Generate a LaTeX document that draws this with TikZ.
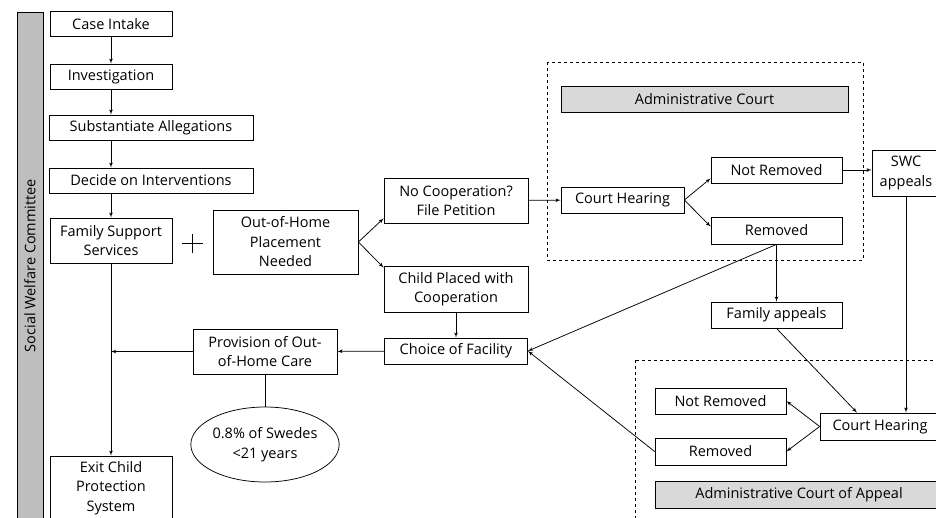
\documentclass[tikz,border=0pt]{standalone}
\usepackage{fontspec}
\setmainfont{Open Sans}
\usetikzlibrary{shapes, arrows}
\definecolor{barfill}{HTML}{BEBEBE}
\definecolor{courtfill}{HTML}{D9D9D9}
\tikzstyle{box} = [rectangle, draw, fill=white, text centered, align=center, inner sep=0pt, line width=0.75pt]
\tikzstyle{sidebar} = [rectangle, draw, fill=barfill, text centered, inner sep=0pt, line width=0.75pt]
\tikzstyle{courtbar} = [rectangle, draw, fill=courtfill, text centered, inner sep=0pt, line width=0.75pt]
\tikzstyle{share} = [ellipse, draw, align=center, inner sep=0pt, line width=0.75pt]
\tikzstyle{frame} = [draw, dashed, line width=0.75pt]
\tikzstyle{line} = [draw, -latex', line width=0.75pt]

\begin{document}
\begin{tikzpicture}[x=1pt, y=-1pt, node distance=52.5pt, font=\fontsize{14.5}{19.5}\selectfont]
    \useasboundingbox (0,0) rectangle (936,517);
    \clip (0,0) rectangle (936,517);

    % committee column
    \node[sidebar, rotate=90, minimum width=507pt, minimum height=26pt](committee) at (30,265.5){Social Welfare Committee};
    \node[box, minimum width=122pt, minimum height=25pt](intake) at (111,24){Case Intake};
    \node[box, minimum width=122pt, minimum height=25pt, below of=intake](invest){Investigation};
    \node[box, minimum width=204pt, minimum height=25pt](subst) at (151,127.5){Substantiate Allegations};
    \node[box, minimum width=204pt, minimum height=25pt](decide) at (151,180.5){Decide on Interventions};
    \node[box, minimum width=122pt, minimum height=45pt](family) at (111,240.5){Family Support\\Services};
    \node[box, minimum width=122pt, minimum height=64pt, below of=family, node distance=247.5pt](exit){Exit Child\\Protection\\System};
    \draw[line width=1pt] (182,243) -- (203,243) (192,234) -- (192,253);

    % placement
    \node[box, minimum width=145pt, minimum height=64pt](need) at (285.5,242){Out-of-Home\\Placement\\Needed};
    \node[box, minimum width=144pt, minimum height=45pt](petition) at (456,200.5){No Cooperation?\\File Petition};
    \node[box, minimum width=144pt, minimum height=46pt, below of=petition, node distance=88.5pt](placed){Child Placed with\\Cooperation};
    \node[box, minimum width=143pt, minimum height=26pt, below of=placed, node distance=62pt](choice){Choice of Facility};
    \node[box, minimum width=144pt, minimum height=45pt](prov) at (265,351.5){Provision of Out-\\of-Home Care};
    \node[share, minimum width=135pt, minimum height=75pt](sweden) at (265,444.5){0.8\% of Swedes\\<21 years};

    % administrative court
    \draw[frame] (547,62) rectangle (863,260);
    \node[courtbar, minimum width=287pt, minimum height=26pt](court) at (704.5,99){Administrative Court};
    \node[box, minimum width=123pt, minimum height=26pt](hearing) at (622.5,200){Court Hearing};
    \node[box, minimum width=131pt, minimum height=26pt](notrem) at (776.5,170){Not Removed};
    \node[box, minimum width=131pt, minimum height=27pt, below of=notrem, node distance=60.5pt](rem){Removed};
    \node[box, minimum width=68pt, minimum height=46pt](swc) at (906,173){SWC\\appeals};
    \node[box, minimum width=131pt, minimum height=26pt, below of=rem, node distance=84.5pt](fam){Family appeals};

    % court of appeal
    \draw[frame] (635,360) rectangle (950,530);
    \node[box, minimum width=131pt, minimum height=26pt](notrem2) at (720.5,401){Not Removed};
    \node[box, minimum width=131pt, minimum height=27pt, below of=notrem2, node distance=50.5pt](rem2){Removed};
    \node[box, minimum width=120pt, minimum height=27pt](hearing2) at (880,426.5){Court Hearing};
    \node[courtbar, minimum width=288pt, minimum height=27pt](appeal) at (799,494.5){Administrative Court of Appeal};

    \path[line] (intake) -- (invest);
    \path[line] (invest) -- (invest |- subst.north);
    \path[line] (subst.south -| invest) -- (decide.north -| invest);
    \path[line] (decide.south -| family) -- (family);
    \path[line] (family) -- (exit);
    \path[line] (prov) -- (prov -| family);
    \draw[line width=0.75pt] (prov.south) -- (prov.south |- sweden.north);
    \path[line] (need.east) -- ([yshift=5pt]petition.south west);
    \path[line] (need.east) -- ([yshift=-2pt]placed.north west);
    \path[line] (placed) -- (choice);
    \path[line] (choice) -- (prov);
    \path[line] (petition) -- (hearing);
    \path[line] (hearing.east) -- ([yshift=5pt]notrem.south west);
    \path[line] (hearing.east) -- ([yshift=-10pt]rem.north west);
    \path[line] (notrem.east) -- (notrem.east -| swc.west);
    \path[line] (rem) -- (fam);
    \path[line] (rem.south) -- (choice.east);
    \path[line] (swc.south) -- (swc.south |- hearing2.north);
    \path[line] (fam.south) -- ([xshift=-23pt]hearing2.north);
    \path[line] (hearing2.west) -- (notrem2.east);
    \path[line] (hearing2.west) -- (rem2.east);
    \path[line] (rem2.west) -- (choice.east);
\end{tikzpicture}
\end{document}
